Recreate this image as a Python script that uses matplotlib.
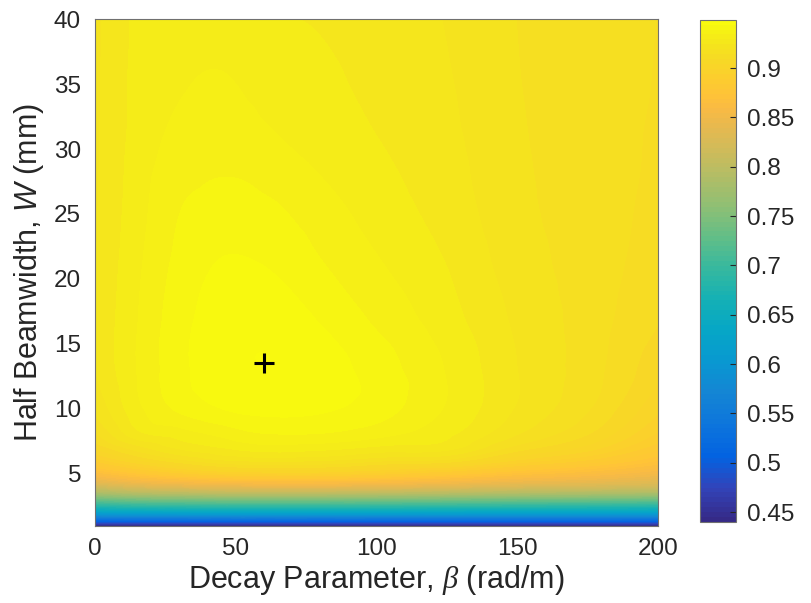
import numpy as np
import matplotlib
matplotlib.use("Agg")
import matplotlib.pyplot as plt
import matplotlib.tri as mtri
from matplotlib.colors import LinearSegmentedColormap, Normalize
from matplotlib.cm import ScalarMappable

plt.rcParams["font.family"] = ["Liberation Sans", "DejaVu Sans"]
plt.rcParams["mathtext.fontset"] = "custom"
plt.rcParams["mathtext.rm"] = "Liberation Sans"
plt.rcParams["mathtext.it"] = "Liberation Sans:italic"
plt.rcParams["mathtext.cal"] = "Liberation Serif:italic"

# ── Datos ────────────────────────────────────────────────────
beta = [0, 15, 30, 45, 60, 80, 100, 125, 150, 175, 200]          # rad/m
w_mm = [1, 1.5, 2, 2.5, 3, 3.5, 4, 4.5, 5, 6, 7, 8, 10, 13.5,
        17, 21, 25, 30, 35, 40]                                    # mm

# eficiencia: una fila por valor de beta, columnas según w_mm
eff = [
    [0.440, 0.533, 0.618, 0.680, 0.732, 0.782, 0.818, 0.845, 0.865, 0.890,
     0.905, 0.913, 0.9200, 0.9243, 0.9243, 0.9238, 0.9235, 0.9232, 0.9230, 0.9230],
    [0.440, 0.535, 0.622, 0.686, 0.740, 0.792, 0.830, 0.858, 0.878, 0.903,
     0.917, 0.927, 0.9325, 0.9342, 0.9338, 0.9330, 0.9320, 0.9310, 0.9305, 0.9300],
    [0.440, 0.535, 0.623, 0.688, 0.742, 0.796, 0.836, 0.865, 0.887, 0.912,
     0.925, 0.931, 0.9400, 0.9425, 0.9420, 0.9405, 0.9390, 0.9360, 0.9335, 0.9325],
    [0.440, 0.535, 0.625, 0.690, 0.745, 0.800, 0.840, 0.870, 0.893, 0.918,
     0.929, 0.935, 0.9440, 0.9475, 0.9465, 0.9445, 0.9410, 0.9375, 0.9345, 0.9325],
    [0.440, 0.535, 0.625, 0.690, 0.745, 0.800, 0.842, 0.872, 0.895, 0.920,
     0.932, 0.9385, 0.9455, 0.9490, 0.9475, 0.9440, 0.9405, 0.9355, 0.9325, 0.9300],
    [0.440, 0.535, 0.625, 0.690, 0.745, 0.800, 0.842, 0.872, 0.895, 0.919,
     0.931, 0.9385, 0.9448, 0.9465, 0.9435, 0.9395, 0.9365, 0.9325, 0.9305, 0.9285],
    [0.440, 0.535, 0.624, 0.689, 0.744, 0.798, 0.840, 0.869, 0.891, 0.915,
     0.928, 0.9355, 0.9415, 0.9415, 0.9380, 0.9347, 0.9320, 0.9295, 0.9275, 0.9262],
    [0.440, 0.535, 0.623, 0.687, 0.741, 0.794, 0.834, 0.862, 0.883, 0.912,
     0.926, 0.930, 0.9335, 0.9335, 0.9310, 0.9290, 0.9270, 0.9255, 0.9245, 0.9238],
    [0.440, 0.535, 0.622, 0.685, 0.738, 0.789, 0.827, 0.853, 0.872, 0.898,
     0.912, 0.919, 0.9235, 0.9240, 0.9230, 0.9215, 0.9205, 0.9198, 0.9193, 0.9190],
    [0.440, 0.535, 0.621, 0.683, 0.736, 0.786, 0.823, 0.847, 0.864, 0.888,
     0.902, 0.909, 0.9145, 0.9165, 0.9168, 0.9168, 0.9167, 0.9166, 0.9165, 0.9163],
    [0.440, 0.534, 0.619, 0.680, 0.733, 0.783, 0.818, 0.838, 0.853, 0.874,
     0.886, 0.893, 0.9000, 0.9060, 0.9095, 0.9115, 0.9125, 0.9133, 0.9138, 0.9140],
]

best_beta = 60
best_w = 13.5

cbar_ticks = [0.45, 0.5, 0.55, 0.6, 0.65, 0.7, 0.75, 0.8, 0.85, 0.9]
x_ticks = [0, 50, 100, 150, 200]
y_ticks = [5, 10, 15, 20, 25, 30, 35, 40]

# ── Colormap tipo parula ─────────────────────────────────────
parula_pts = [
    (0, (0.2081, 0.1663, 0.5292)), (4, (0.1959, 0.2645, 0.7279)),
    (8, (0.0117, 0.3875, 0.8820)), (12, (0.0498, 0.4586, 0.8641)),
    (16, (0.0793, 0.5200, 0.8312)), (20, (0.0343, 0.5966, 0.8199)),
    (24, (0.0228, 0.6535, 0.7768)), (28, (0.0843, 0.6928, 0.7062)),
    (32, (0.2178, 0.7250, 0.6193)), (36, (0.3953, 0.7459, 0.5244)),
    (40, (0.5709, 0.7485, 0.4494)), (44, (0.7184, 0.7411, 0.3905)),
    (48, (0.8507, 0.7299, 0.3360)), (50, (0.9139, 0.7258, 0.3063)),
    (52, (0.9739, 0.7314, 0.2666)), (54, (0.9990, 0.7653, 0.2164)),
    (56, (0.9880, 0.8066, 0.1794)), (58, (0.9697, 0.8481, 0.1475)),
    (60, (0.9589, 0.8949, 0.1132)), (62, (0.9661, 0.9514, 0.0755)),
    (63, (0.9763, 0.9831, 0.0538)),
]
parula = LinearSegmentedColormap.from_list(
    "parula", [(i / 63, c) for i, c in parula_pts], N=256)

TXT = "#262626"
VMIN, VMAX = 0.44, 0.949

fig = plt.figure(figsize=(8.11, 6.03), dpi=100)
ax = fig.add_axes([0.1171, 0.1285, 0.6942, 0.8395])
cax = fig.add_axes([0.8631, 0.1343, 0.0444, 0.8330])

# contornos rellenos suavizados (triangulación en coordenadas normalizadas)
B, W = np.meshgrid(beta, w_mm)
Z = np.array(eff).T
tri = mtri.Triangulation(B.ravel() / 200.0, W.ravel() / 40.0)
refiner = mtri.UniformTriRefiner(tri)
interp = mtri.CubicTriInterpolator(tri, Z.ravel(), kind="geom")
tri_f, z_f = refiner.refine_field(Z.ravel(), triinterpolator=interp, subdiv=4)
tri_f = mtri.Triangulation(tri_f.x * 200.0, tri_f.y * 40.0, tri_f.triangles)

levels = np.linspace(VMIN, VMAX, 103)
ax.tricontourf(tri_f, z_f, levels=levels, cmap=parula, vmin=VMIN, vmax=VMAX,
               extend="both")
ax.plot(best_beta, best_w, "+", color="black", ms=15, mew=2.2)

ax.set_xlim(0, 200)
ax.set_ylim(1, 40)
ax.set_xticks(x_ticks)
ax.set_yticks(y_ticks)
ax.tick_params(length=0, labelsize=17.5, colors=TXT)
ax.tick_params(axis="x", pad=9)
ax.tick_params(axis="y", pad=10)
ax.set_xlabel(r"Decay Parameter, $\mathcal{\beta}$ (rad/m)", fontsize=22, color=TXT,
              labelpad=2)
ax.set_ylabel(r"Half Beamwidth, $\mathit{W}$ (mm)", fontsize=22, color=TXT,
              labelpad=6)
for s in ax.spines.values():
    s.set_color("#707070")
    s.set_linewidth(0.8)

# colorbar con niveles discretos, como un contourf de 100 niveles
sm = ScalarMappable(norm=Normalize(VMIN, VMAX), cmap=parula.resampled(102))
cb = fig.colorbar(sm, cax=cax, ticks=cbar_ticks)
cb.ax.tick_params(direction="in", length=4, width=0.8, labelsize=17.5,
                  colors=TXT, pad=8)
cb.ax.set_yticklabels([f"{t:g}" for t in cbar_ticks])
cb.outline.set_edgecolor("#707070")
cb.outline.set_linewidth(0.8)

plt.savefig("out.png", dpi=100)
